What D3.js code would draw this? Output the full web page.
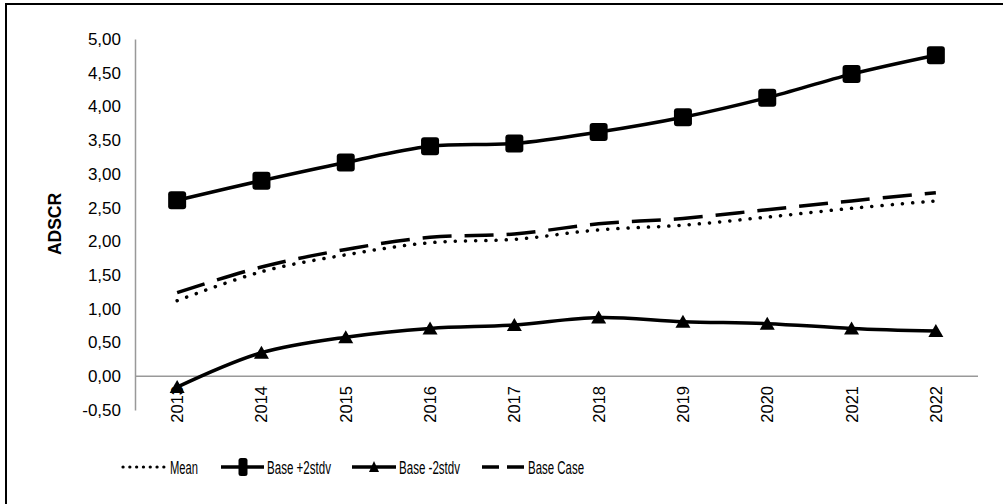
<!DOCTYPE html>
<html>
<head>
<meta charset="utf-8">
<script src="https://cdn.jsdelivr.net/npm/d3@7"></script>
<style>
  html, body { margin: 0; padding: 0; background: #fff; }
  svg { display: block; font-family: "Liberation Sans", Arial, sans-serif; }
</style>
</head>
<body>
<svg id="chart" width="1003" height="504"></svg>
<script>
const years = ["2013","2014","2015","2016","2017","2018","2019","2020","2021","2022"];
const meanValues = [1.12, 1.55, 1.80, 1.98, 2.03, 2.17, 2.24, 2.36, 2.49, 2.60];
const plus2Values = [2.61, 2.90, 3.17, 3.41, 3.45, 3.62, 3.84, 4.13, 4.48, 4.76];
const minus2Values = [-0.16, 0.35, 0.58, 0.71, 0.76, 0.87, 0.81, 0.78, 0.71, 0.67];
const baseCaseValues = [1.24, 1.62, 1.88, 2.06, 2.11, 2.26, 2.34, 2.47, 2.60, 2.72];
const yTicks = [-0.5, 0, 0.5, 1, 1.5, 2, 2.5, 3, 3.5, 4, 4.5, 5];
const seriesNames = ["Mean", "Base +2stdv", "Base -2stdv", "Base Case"];

const svg = d3.select("#chart");

// outer frame (only top/left visible)
svg.append("rect").attr("x", 6).attr("y", 4).attr("width", 1010).attr("height", 510)
  .attr("fill", "none").attr("stroke", "#000").attr("stroke-width", 2);

const plot = { left: 135, right: 978, top: 39, bottom: 410 };

const x = d3.scaleBand().domain(years).range([plot.left, plot.right]);
const y = d3.scaleLinear().domain([-0.5, 5]).range([plot.bottom, plot.top]);
const fmt = v => (v < 0 ? "-" : "") + Math.abs(v).toFixed(2).replace(".", ",");

// y axis
const yAxis = svg.append("g").attr("transform", `translate(${plot.left},0)`)
  .call(d3.axisLeft(y).tickValues(yTicks).tickSize(0).tickPadding(14).tickFormat(fmt));
yAxis.select(".domain").attr("stroke", "#999").attr("stroke-width", 1.5);
yAxis.selectAll("text").attr("font-size", 17).attr("fill", "#000")
  .attr("font-family", "Liberation Sans, Arial, sans-serif");

// zero line (category axis)
svg.append("line").attr("x1", plot.left).attr("x2", plot.right)
  .attr("y1", y(0)).attr("y2", y(0)).attr("stroke", "#999").attr("stroke-width", 1.5);

// x labels
svg.append("g").selectAll("text").data(years).join("text")
  .attr("transform", d => `translate(${x(d) + x.bandwidth() / 2 + 6},${386}) rotate(-90)`)
  .attr("text-anchor", "end")
  .attr("font-size", 16.5)
  .text(d => d);

// y title
svg.append("text")
  .attr("transform", `translate(${61},${224}) rotate(-90)`)
  .attr("text-anchor", "middle").attr("font-weight", "bold").attr("font-size", 17.5)
  .text("ADSCR");

const cx = d => x(d) + x.bandwidth() / 2;
const line = d3.line().x(d => cx(d.year)).y(d => y(d.v)).curve(d3.curveCatmullRom.alpha(0.5));
const toPts = vals => years.map((yr, i) => ({ year: yr, v: vals[i] }));

// Mean dotted
svg.append("path").datum(toPts(meanValues)).attr("d", line)
  .attr("fill", "none").attr("stroke", "#000").attr("stroke-width", 3.5)
  .attr("stroke-linecap", "round").attr("stroke-dasharray", "0.1 10.1");

// Base case dashed
svg.append("path").datum(toPts(baseCaseValues)).attr("d", line)
  .attr("fill", "none").attr("stroke", "#000").attr("stroke-width", 3.5)
  .attr("stroke-dasharray", "29 13");

// +2stdv
svg.append("path").datum(toPts(plus2Values)).attr("d", line)
  .attr("fill", "none").attr("stroke", "#000").attr("stroke-width", 3.5);
svg.append("g").selectAll("rect").data(toPts(plus2Values)).join("rect")
  .attr("x", d => cx(d.year) - 9).attr("y", d => y(d.v) - 9)
  .attr("width", 18).attr("height", 18).attr("rx", 3).attr("fill", "#000");

// -2stdv
svg.append("path").datum(toPts(minus2Values)).attr("d", line)
  .attr("fill", "none").attr("stroke", "#000").attr("stroke-width", 3.5);
svg.append("g").selectAll("path").data(toPts(minus2Values)).join("path")
  .attr("d", d => { const px = cx(d.year), py = y(d.v); return `M${px},${py - 7}L${px + 7.5},${py + 6}L${px - 7.5},${py + 6}Z`; })
  .attr("fill", "#000");

// Legend
const ly = 467;
const lg = svg.append("g");
// Mean
lg.append("line").attr("x1", 123).attr("x2", 164).attr("y1", ly).attr("y2", ly)
  .attr("stroke", "#000").attr("stroke-width", 3.2).attr("stroke-linecap", "round")
  .attr("stroke-dasharray", "0.1 6.7");
// +2stdv
lg.append("line").attr("x1", 221).attr("x2", 264).attr("y1", ly).attr("y2", ly)
  .attr("stroke", "#000").attr("stroke-width", 3.5);
lg.append("rect").attr("x", 238.5).attr("y", ly - 9).attr("width", 9).attr("height", 18)
  .attr("rx", 2.5).attr("fill", "#000");
// -2stdv
lg.append("line").attr("x1", 352).attr("x2", 396).attr("y1", ly).attr("y2", ly)
  .attr("stroke", "#000").attr("stroke-width", 3.5);
lg.append("path").attr("d", `M374,${ly - 6}L379,${ly + 5}L369,${ly + 5}Z`).attr("fill", "#000");
// Base case
lg.append("line").attr("x1", 482).attr("x2", 524).attr("y1", ly).attr("y2", ly)
  .attr("stroke", "#000").attr("stroke-width", 3.5).attr("stroke-dasharray", "17 8");

const legendText = [
  { name: seriesNames[0], x: 170, w: 28 },
  { name: seriesNames[1], x: 267, w: 64 },
  { name: seriesNames[2], x: 399, w: 61 },
  { name: seriesNames[3], x: 528, w: 56 }
];
lg.selectAll("text").data(legendText).join("text")
  .attr("x", d => d.x).attr("y", ly + 6.5)
  .attr("font-size", 17.5)
  .attr("textLength", d => d.w).attr("lengthAdjust", "spacingAndGlyphs")
  .text(d => d.name);
</script>
</body>
</html>
